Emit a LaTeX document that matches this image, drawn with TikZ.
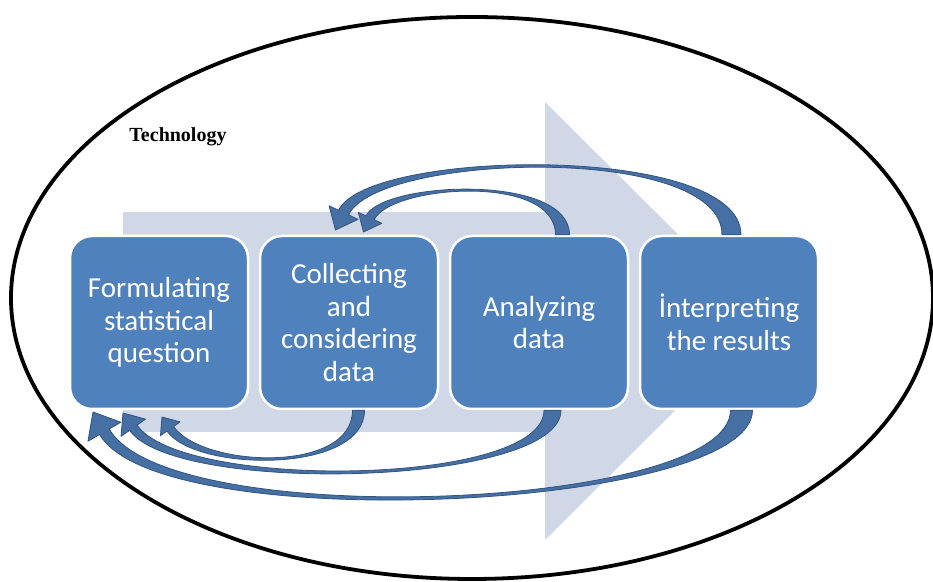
\documentclass[tikz,border=0pt]{standalone}
\usepackage{fontspec}
\setmainfont{Liberation Serif}
\newfontfamily\boxfont{Carlito}
\usetikzlibrary{positioning,calc}

\definecolor{stagefill}{RGB}{79,129,189}
\definecolor{loopfill}{RGB}{70,111,163}
\definecolor{loopline}{RGB}{50,84,128}
\definecolor{flowfill}{RGB}{208,216,232}

\tikzset{
  stage/.style={draw=white,line width=1.25pt,fill=stagefill,rounded corners=11pt,
    minimum width=89pt,minimum height=86.5pt,outer sep=0pt,inner sep=2pt,
    align=center,text=white,font=\boxfont\fontsize{14.5}{16.3}\selectfont},
  loop/.style={fill=loopfill,draw=loopline,line width=0.4pt}
}

% tail, tail angle, tail pull, tip, head angle, head pull, tail/shaft/head half widths
\newcommand\backarrow[9]{%
  \fill[loop] let \p1=#1, \p4=($#4+(#5+180:1.2*#9)$) in
    ($(\p1)+(#2+90:#7)$)
    .. controls ($(\p1)+(#2:#3)+(#2+90:#7)$) and ($(\p4)+(#5+180:#6)+(#5+90:#8)$)
    .. ($(\p4)+(#5+90:#8)$)
    -- ($(\p4)+(#5+90:#9)$) -- #4 -- ($(\p4)+(#5-90:#9)$) -- ($(\p4)+(#5-90:#8)$)
    .. controls ($(\p4)+(#5+180:#6)+(#5-90:#8)$) and ($(\p1)+(#2:#3)+(#2-90:#7)$)
    .. ($(\p1)+(#2-90:#7)$) -- cycle;
}

\begin{document}
\begin{tikzpicture}[x=0.5pt,y=0.5pt,line cap=round,line join=round]
\useasboundingbox (0,0) rectangle (933,582);

% outer ellipse
\draw[line width=1.9pt] (472,284) ellipse [x radius=230.5pt,y radius=140.5pt];

% flow arrow behind the stages
\fill[flowfill] (123,150) rectangle (545,370);
\fill[flowfill] (545,480) -- (765,261) -- (545,42) -- cycle;

\node[font=\bfseries\fontsize{10}{12}\selectfont] (tech) at (178,445) {Technology};

%%%%%%%%%%%%%%%% STAGES %%%%%%%%%%%%%%%%
\node[stage] (formulate) at (159,259.5) {Formulating\\statistical\\question};
\node[stage,right=6pt of formulate] (collect) {Collecting\\and\\considering\\data};
\node[stage,right=6pt of collect] (analyze) {Analyzing\\data};
\node[stage,right=6pt of analyze] (interpret) {İnterpreting\\the results};

%%%%%%%%%%%%%%%% BACK TO COLLECTING %%%%%%%%%%%%%%%%
\coordinate (tA) at ([xshift=11.75pt,yshift=0.6pt]analyze.north);
\coordinate (hA) at ([xshift=7.25pt,yshift=2pt]collect.north);
\coordinate (tB) at ([xshift=1.25pt,yshift=0.6pt]interpret.north);
\coordinate (hB) at ([xshift=-6.75pt,yshift=3pt]collect.north);
\backarrow{(tA)}{90}{31pt}{(hA)}{-115}{19pt}{3.5pt}{2.25pt}{6.5pt}
\backarrow{(tB)}{90}{46pt}{(hB)}{-115}{34pt}{4.75pt}{2.75pt}{8pt}

%%%%%%%%%%%%%%%% BACK TO FORMULATING %%%%%%%%%%%%%%%%
\coordinate (tC) at ([xshift=4.75pt,yshift=-0.6pt]collect.south);
\coordinate (hC) at ([xshift=1.5pt,yshift=-4pt]formulate.south);
\coordinate (tD) at ([xshift=6.75pt,yshift=-0.6pt]analyze.south);
\coordinate (hD) at ([xshift=-18pt,yshift=-2pt]formulate.south);
\coordinate (tE) at ([xshift=6.25pt,yshift=-0.6pt]interpret.south);
\coordinate (hE) at ([xshift=-33pt,yshift=-1.5pt]formulate.south);
\backarrow{(tC)}{-90}{32pt}{(hC)}{125}{25pt}{3pt}{2pt}{6pt}
\backarrow{(tD)}{-90}{38pt}{(hD)}{125}{40pt}{4.25pt}{2.25pt}{7.5pt}
\backarrow{(tE)}{-90}{50pt}{(hE)}{120}{60pt}{5.5pt}{2.75pt}{9.5pt}

\end{tikzpicture}
\end{document}
